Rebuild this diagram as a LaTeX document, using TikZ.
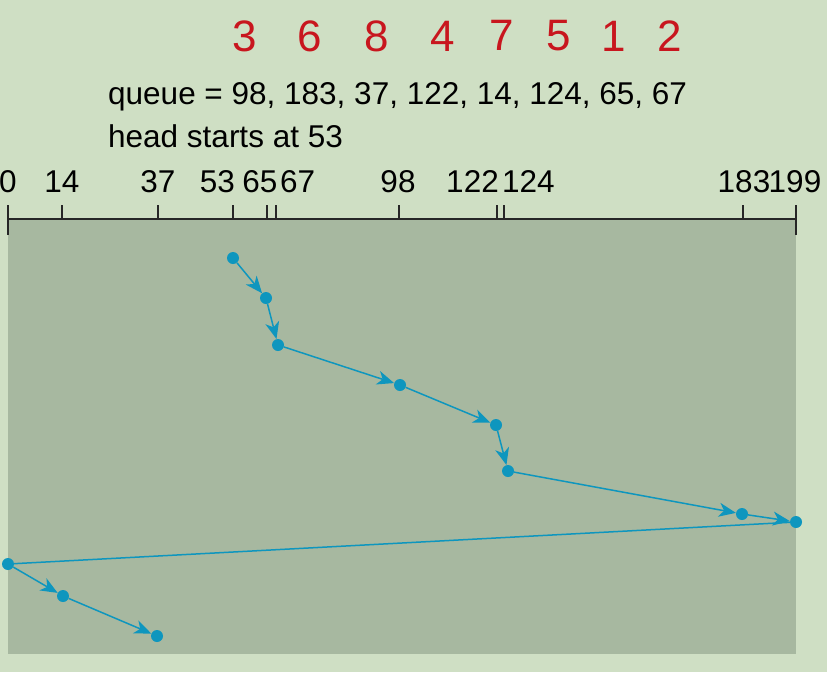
\documentclass[tikz,border=0pt]{standalone}
\usepackage{fontspec}
\setmainfont{Liberation Sans}
\usetikzlibrary{arrows.meta}
\definecolor{bgc}{HTML}{CFDFC4}
\definecolor{panel}{HTML}{A7B8A0}
\definecolor{trk}{HTML}{0E96BE}
\definecolor{hand}{HTML}{C8161E}
\begin{document}
\begin{tikzpicture}[x=1pt,y=-1pt,
  dot/.style={circle,fill=trk,inner sep=0pt,minimum size=12pt},
  mv/.style={draw=trk,line width=1.5pt,-{Stealth[length=17pt,width=14pt,inset=5pt]}},
  jump/.style={draw=trk,line width=1.5pt},
  lab/.style={font=\fontsize{31.5}{32}\selectfont,inner sep=0pt,anchor=base},
  tk/.style={line width=1.2pt,black!85},
  hw/.style={font=\fontsize{44}{44}\selectfont,text=hand,inner sep=0pt}]
\fill[bgc] (0,0) rectangle (827,672);
\useasboundingbox (0,0) rectangle (827,672);
\fill[panel] (8,219) rectangle (796,654);
% handwritten order
\node[hw] (h3) at (245,36) {3};
\node[hw] (h6) at (310,36) {6};
\node[hw] (h8) at (377,36) {8};
\node[hw] (h4) at (443,36) {4};
\node[hw] (h7) at (502,35) {7};
\node[hw] (h5) at (559,36) {5};
\node[hw] (h1) at (614,36) {1};
\node[hw] (h2) at (670,36) {2};
% titles
\node[lab,anchor=base west] (q) at (108,104) {queue = 98, 183, 37, 122, 14, 124, 65, 67};
\node[lab,anchor=base west] (hs) at (108,147) {head starts at 53};
% axis
\draw[tk] (8,219) -- (796,219);
\draw[tk] (8,205) -- (8,235);
\draw[tk] (796,205) -- (796,235);
\foreach \x in {62,158,233,267,276,399,497,504,743}
  \draw[tk] (\x,205) -- (\x,219);
\node[lab] (l0) at (8,192) {0};
\node[lab] (l14) at (62,192) {14};
\node[lab] (l37) at (158,192) {37};
\node[lab,anchor=base east] (l53) at (235,192) {53};
\node[lab] (l65) at (260,192) {65};
\node[lab,anchor=base west] (l67) at (280,192) {67};
\node[lab] (l98) at (398,192) {98};
\node[lab,anchor=base east] (l122) at (499,192) {122};
\node[lab,anchor=base west] (l124) at (502,192) {124};
\node[lab] (l183) at (744,192) {183};
\node[lab] (l199) at (795,192) {199};
% head path
\node[dot] (p53) at (233,258) {};
\node[dot] (p65) at (266,298) {};
\node[dot] (p67) at (278,345) {};
\node[dot] (p98) at (400,385) {};
\node[dot] (p122) at (496,425) {};
\node[dot] (p124) at (508,471) {};
\node[dot] (p183) at (742,514) {};
\node[dot] (p199) at (796,522) {};
\node[dot] (p0) at (8,564) {};
\node[dot] (p14) at (63,596) {};
\node[dot] (p37) at (157,636) {};
\draw[mv] (p53) -- (p65);
\draw[mv] (p65) -- (p67);
\draw[mv] (p67) -- (p98);
\draw[mv] (p98) -- (p122);
\draw[mv] (p122) -- (p124);
\draw[mv] (p124) -- (p183);
\draw[mv] (p183) -- (p199);
\draw[jump] (p199) -- (p0);
\draw[mv] (p0) -- (p14);
\draw[mv] (p14) -- (p37);
\end{tikzpicture}
\end{document}
